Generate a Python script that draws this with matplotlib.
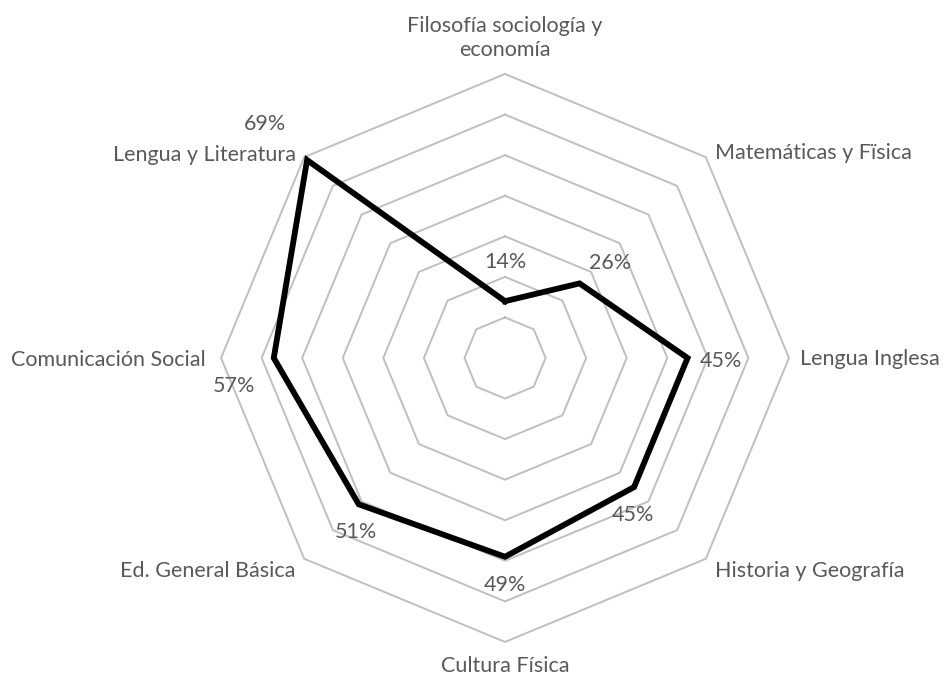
"""Radar chart: porcentaje por carrera"""
import numpy as np
import matplotlib
matplotlib.use("Agg")
import matplotlib.pyplot as plt

plt.rcParams['font.family'] = ['Lato', 'DejaVu Sans']

# data (clockwise from top)
categories = ["Filosofía sociología y\neconomía", "Matemáticas y Fïsica",
              "Lengua Inglesa", "Historia y Geografía", "Cultura Física",
              "Ed. General Básica", "Comunicación Social",
              "Lengua y Literatura"]
values = [14, 26, 45, 45, 49, 51, 57, 69]
rings = [10, 20, 30, 40, 50, 60, 70]

# label placement (offset points) and alignment
val_offsets = [(0, 28), (22, 15), (24, -2), (-1, -20), (0, -20), (-2, -20),
               (-29, -20), (-30, 26)]
cat_offsets = [(0, 26, "center"), (6.5, 3, "left"), (8, -1, "left"),
               (6.5, -9, "left"), (0, -17, "center"), (-6.5, -9, "right"),
               (-11, -1.5, "right"), (-6, 1.5, "right")]

txt_color = "#595959"
grid_color = "#BFBFBF"
fsize = 15.5

fig = plt.figure(figsize=[9.45, 6.8], dpi=100)
ax = fig.add_axes([0.2339, 0.0559, 0.601, 0.8353], projection="polar")
ax.set_theta_zero_location("N")
ax.set_theta_direction(-1)
ax.set_ylim(0, rings[-1])
ax.grid(False)
ax.set_xticks([])
ax.set_yticks([])
ax.spines["polar"].set_visible(False)
ax.patch.set_visible(False)

theta = np.deg2rad(np.arange(len(categories)) * 360.0 / len(categories))
theta_c = np.append(theta, theta[0])

# octagonal grid
for r in rings:
    ax.plot(theta_c, [r] * len(theta_c), color=grid_color, lw=1.4,
            zorder=1, clip_on=False)

# series
vals_c = values + values[:1]
ax.plot(theta_c, vals_c, color="black", lw=4.2, zorder=3,
        solid_joinstyle="miter", clip_on=False)

# data labels
for t, v, off in zip(theta, values, val_offsets):
    ax.annotate(f"{v}%", xy=(t, v), xytext=off, textcoords="offset points",
                ha="center", va="center", fontsize=fsize, color=txt_color,
                zorder=4)

# category labels
for t, cat, (dx, dy, ha) in zip(theta, categories, cat_offsets):
    ax.annotate(cat, xy=(t, rings[-1]), xytext=(dx, dy),
                textcoords="offset points", ha=ha, va="center",
                multialignment="center", linespacing=1.3,
                fontsize=fsize, color=txt_color, annotation_clip=False)

fig.savefig("out.png", dpi=100)
